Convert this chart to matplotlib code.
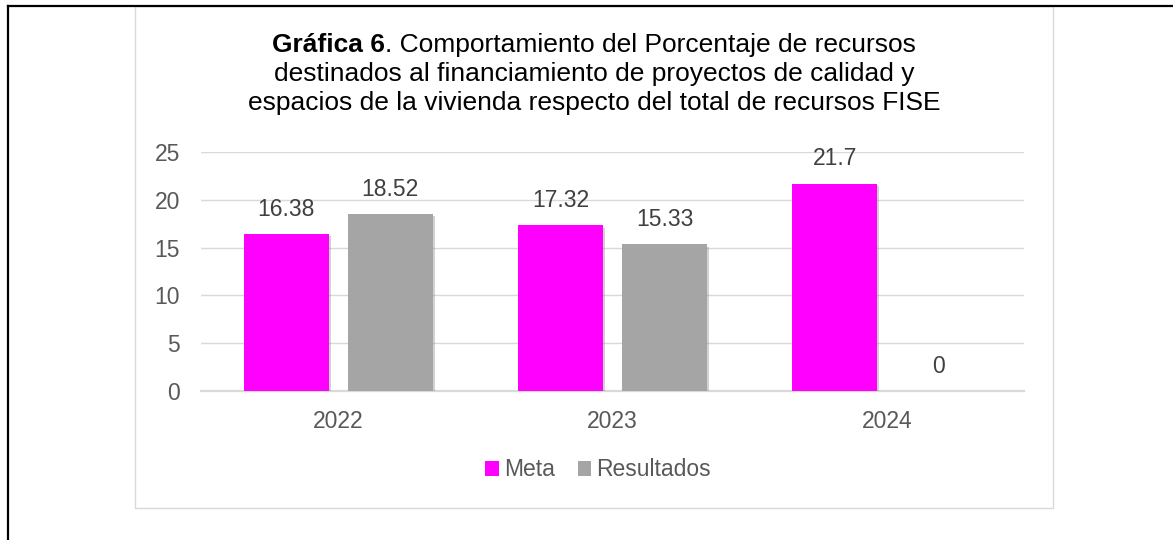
import numpy as np
import matplotlib
matplotlib.use('Agg')
import matplotlib.pyplot as plt
from matplotlib.patches import Patch, Rectangle
from matplotlib.lines import Line2D
import matplotlib.patheffects as pe

plt.rcParams['font.family'] = ['Liberation Sans', 'DejaVu Sans']

# -----------------------------------------------------------------------------
# Data
years = ['2022', '2023', '2024']
meta = [16.38, 17.32, 21.7]
resultados = [18.52, 15.33, 0]
meta_labels = ['16.38', '17.32', '21.7']
res_labels = ['18.52', '15.33', '0']

title_bold = 'Gráfica 6'
title_lines = ['. Comportamiento del Porcentaje de recursos',
               'destinados al financiamiento de proyectos de calidad y',
               'espacios de la vivienda respecto del total de recursos FISE']

# -----------------------------------------------------------------------------
W, H = 1173, 540
fig = plt.figure(figsize=(W / 100, H / 100), dpi=100)

def fx(px):
    return px / W

def fy(py):
    return 1 - py / H

# outer page border (black) and chart box (light gray)
fig.add_artist(Line2D([fx(8), fx(1173)], [fy(6), fy(6)], color='black', lw=1.6))
fig.add_artist(Line2D([fx(8), fx(8)], [fy(6), fy(540)], color='black', lw=1.6))
fig.add_artist(Rectangle((fx(135), fy(508)), fx(1053) - fx(135), fy(6) - fy(508),
                         fill=False, edgecolor='#D9D9D9', lw=1.0))

ax = fig.add_axes([fx(201), fy(391), fx(1024) - fx(201), fy(152) - fy(391)])

x = np.arange(len(years))
w = 0.31
off = 0.19
shadow = [pe.SimplePatchShadow(offset=(1.5, -1.5), shadow_rgbFace='#808080', alpha=0.35),
          pe.Normal()]
b1 = ax.bar(x - off, meta, width=w, color='#FF00FF', zorder=3, label='Meta')
b2 = ax.bar(x + off, resultados, width=w, color='#A5A5A5', zorder=3, label='Resultados')
for b in list(b1) + list(b2):
    if b.get_height() > 0:
        b.set_path_effects(shadow)

for xi, v, s in zip(x - off, meta, meta_labels):
    ax.annotate(s, (xi, v), xytext=(0, 13), textcoords='offset points',
                ha='center', va='baseline', fontsize=16.5, color='#404040')
for xi, v, s in zip(x + off, resultados, res_labels):
    ax.annotate(s, (xi, v), xytext=(0, 13), textcoords='offset points',
                ha='center', va='baseline', fontsize=16.5, color='#404040')

ax.set_xlim(-0.5, 2.5)
ax.set_ylim(0, 25)
ax.set_yticks([0, 5, 10, 15, 20, 25])
ax.set_xticks(x)
ax.set_xticklabels(years)
ax.tick_params(axis='both', length=0, labelsize=16.5, labelcolor='#595959')
ax.tick_params(axis='y', pad=15)
ax.tick_params(axis='x', pad=14)
ax.grid(axis='y', color='#D9D9D9', lw=1.0, zorder=0)
ax.set_axisbelow(True)
for s in ['top', 'right', 'left']:
    ax.spines[s].set_visible(False)
ax.spines['bottom'].set_color('#D9D9D9')
ax.spines['bottom'].set_linewidth(1.6)

# legend
handles = [Patch(facecolor='#FF00FF', label='Meta'),
           Patch(facecolor='#A5A5A5', label='Resultados')]
fig.legend(handles=handles, loc='center', bbox_to_anchor=(fx(598), fy(470)), ncol=2,
           frameon=False, fontsize=16.5, handlelength=0.6, handleheight=0.6,
           handletextpad=0.2, columnspacing=1.0, labelcolor='#595959')

# title, first part bold
cx = fx(594)
tsize = 19
t_b = fig.text(0, fy(52), title_bold, fontsize=tsize, fontweight='bold', va='baseline', ha='left')
t_r = fig.text(0, fy(52), title_lines[0], fontsize=tsize, va='baseline', ha='left')
fig.canvas.draw()
r = fig.canvas.get_renderer()
wb = t_b.get_window_extent(r).width / W
wr = t_r.get_window_extent(r).width / W
x0 = cx - (wb + wr) / 2
t_b.set_x(x0)
t_r.set_x(x0 + wb)
fig.text(cx, fy(81), title_lines[1], fontsize=tsize, va='baseline', ha='center')
fig.text(cx, fy(110), title_lines[2], fontsize=tsize, va='baseline', ha='center')

plt.savefig('out.png', dpi=100)
